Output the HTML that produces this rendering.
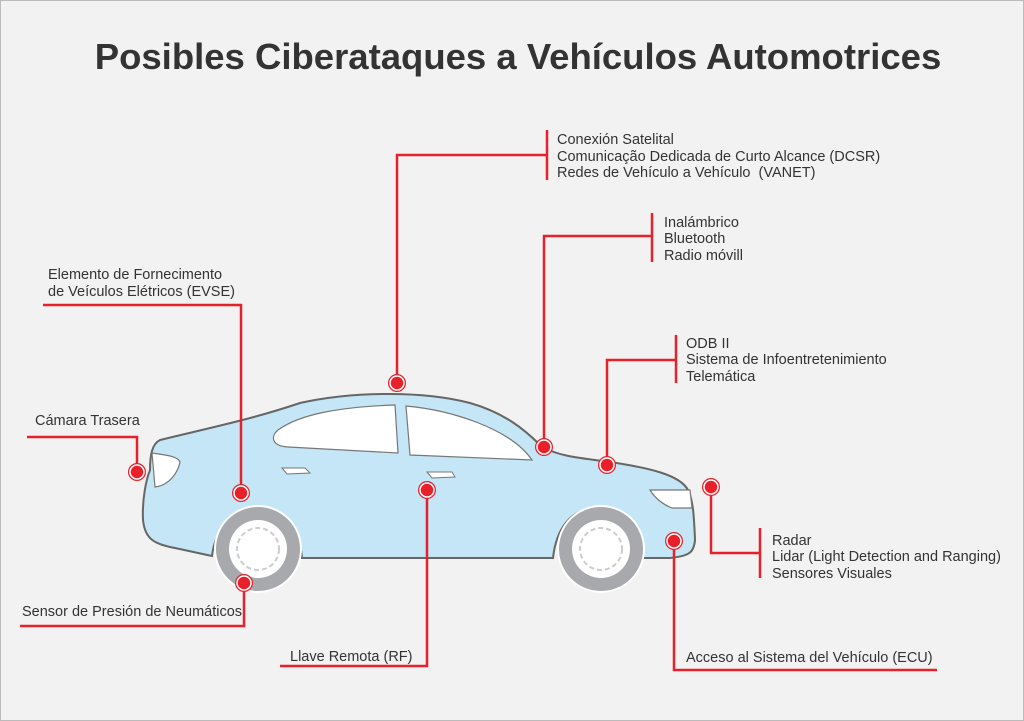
<!DOCTYPE html>
<html><head><meta charset="utf-8"><style>
html,body{margin:0;padding:0;background:#f2f2f2;}
svg{display:block;font-family:"Liberation Sans",Arial,sans-serif;}
</style></head><body>
<svg width="1024" height="721" viewBox="0 0 1024 721">
<rect x="0.5" y="0.5" width="1023" height="720" fill="#f2f2f2" stroke="#bbb"/>
<text x="518" y="69" text-anchor="middle" font-size="36.5" font-weight="bold" fill="#333">Posibles Ciberataques a Vehículos Automotrices</text>

<path d="M160,440 C200,430 250,420 300,403 C350,392 420,390 470,403 C505,413 525,430 540,445 C555,456 580,458 610,462 C650,468 680,475 688,490 C693,500 694,515 695,540 C694,552 690,556 670,558 L643,558 C640,530 620,508 598,508 C570,508 556,530 553,558 L302,558 C300,528 282,508 258,508 C232,508 215,530 212,556 L175,548 C155,544 145,540 143,520 C142,500 146,480 150,470 C150,455 152,444 160,440 Z" fill="#c4e6f6" stroke="#666" stroke-width="2"/>
<path d="M278,430 C300,414 340,407 395,405 L398,453 L288,447 C272,446 270,437 278,430 Z" fill="#fff" stroke="#777" stroke-width="1.2"/>
<path d="M406,406 C450,410 510,428 532,460 L410,455 Z" fill="#fff" stroke="#777" stroke-width="1.2"/>
<path d="M152,453 C165,455 178,456 180,462 C178,472 170,485 155,487 Z" fill="#fff" stroke="#777" stroke-width="1.2"/>
<path d="M650,490 L690,490 L692,508 L672,508 C662,504 655,498 650,490 Z" fill="#fff" stroke="#777" stroke-width="1.2"/>
<path d="M282,468 L305,468 L310,473 L287,474 Z" fill="#fff" stroke="#777" stroke-width="1"/>
<path d="M427,472 L452,472 L455,477 L432,478 Z" fill="#fff" stroke="#777" stroke-width="1"/>
<circle cx="258" cy="549" r="43" fill="#a7a9ac" stroke="#fff" stroke-width="2"/>
<circle cx="258" cy="549" r="29" fill="#fff"/>
<circle cx="258" cy="549" r="21" fill="none" stroke="#ccc" stroke-width="2" stroke-dasharray="5 3"/>
<circle cx="601" cy="549" r="43" fill="#a7a9ac" stroke="#fff" stroke-width="2"/>
<circle cx="601" cy="549" r="29" fill="#fff"/>
<circle cx="601" cy="549" r="21" fill="none" stroke="#ccc" stroke-width="2" stroke-dasharray="5 3"/>

<g fill="none" stroke="#e8202a" stroke-width="2.5">
<polyline points="397,383 397,155 547,155"/><line x1="547" y1="130" x2="547" y2="180"/>
<polyline points="544,447 544,236 652,236"/><line x1="652" y1="213" x2="652" y2="262"/>
<polyline points="607,465 607,360 676,360"/><line x1="676" y1="335" x2="676" y2="383"/>
<polyline points="241,493 241,305 43,305"/>
<polyline points="137,472 137,437 27,437"/>
<polyline points="244,583 244,626 20,626"/>
<polyline points="427,490 427,666 280,666"/>
<polyline points="674,541 674,670 937,670"/>
<polyline points="711,487 711,553 760,553"/><line x1="760" y1="528" x2="760" y2="578"/>
</g>
<g fill="#e8202a">
<g><circle cx="397" cy="383" r="9"/><circle cx="397" cy="383" r="7" fill="none" stroke="#fff" stroke-width="1.5"/></g>
<g><circle cx="544" cy="447" r="9"/><circle cx="544" cy="447" r="7" fill="none" stroke="#fff" stroke-width="1.5"/></g>
<g><circle cx="607" cy="465" r="9"/><circle cx="607" cy="465" r="7" fill="none" stroke="#fff" stroke-width="1.5"/></g>
<g><circle cx="241" cy="493" r="9"/><circle cx="241" cy="493" r="7" fill="none" stroke="#fff" stroke-width="1.5"/></g>
<g><circle cx="137" cy="472" r="9"/><circle cx="137" cy="472" r="7" fill="none" stroke="#fff" stroke-width="1.5"/></g>
<g><circle cx="244" cy="583" r="9"/><circle cx="244" cy="583" r="7" fill="none" stroke="#fff" stroke-width="1.5"/></g>
<g><circle cx="427" cy="490" r="9"/><circle cx="427" cy="490" r="7" fill="none" stroke="#fff" stroke-width="1.5"/></g>
<g><circle cx="674" cy="541" r="9"/><circle cx="674" cy="541" r="7" fill="none" stroke="#fff" stroke-width="1.5"/></g>
<g><circle cx="711" cy="487" r="9"/><circle cx="711" cy="487" r="7" fill="none" stroke="#fff" stroke-width="1.5"/></g>
</g>

<g font-size="14.5" fill="#333">
<text x="557" y="144">Conexión Satelital</text>
<text x="557" y="161">Comunicação Dedicada de Curto Alcance (DCSR)</text>
<text x="557" y="177" xml:space="preserve">Redes de Vehículo a Vehículo  (VANET)</text>
<text x="664" y="227">Inalámbrico</text>
<text x="664" y="243">Bluetooth</text>
<text x="664" y="260">Radio móvill</text>
<text x="686" y="348">ODB II</text>
<text x="686" y="364">Sistema de Infoentretenimiento</text>
<text x="686" y="381">Telemática</text>
<text x="48" y="279">Elemento de Fornecimento</text>
<text x="48" y="296">de Veículos Elétricos (EVSE)</text>
<text x="35" y="425">Cámara Trasera</text>
<text x="22" y="616">Sensor de Presión de Neumáticos</text>
<text x="290" y="661">Llave Remota (RF)</text>
<text x="686" y="662">Acceso al Sistema del Vehículo (ECU)</text>
<text x="772" y="545">Radar</text>
<text x="772" y="561">Lidar (Light Detection and Ranging)</text>
<text x="772" y="578">Sensores Visuales</text>
</g>
</svg>
</body></html>
